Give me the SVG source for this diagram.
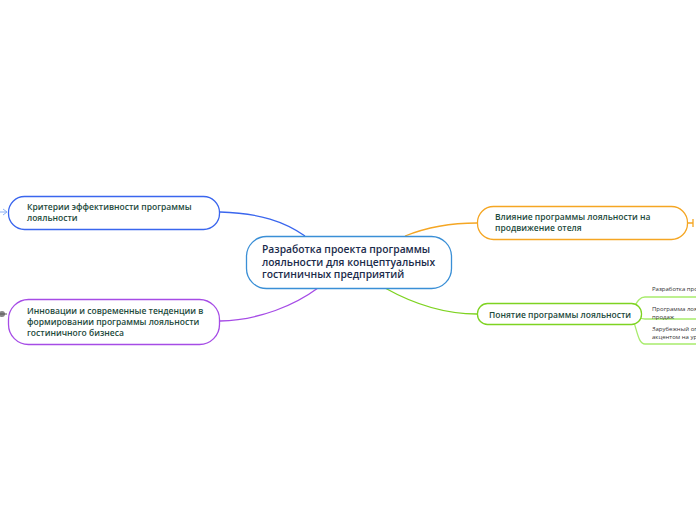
<svg xmlns="http://www.w3.org/2000/svg" width="696" height="520" viewBox="0 0 696 520">
<style>
.t{font-family:"Open Sans","Noto Sans","Liberation Sans",sans-serif;font-weight:600;fill:#1d4a3c;font-size:8.5px}
.c{font-family:"Open Sans","Noto Sans","Liberation Sans",sans-serif;font-weight:600;fill:#1b2b4b;font-size:10.3px}
.s{font-family:"Open Sans","Noto Sans","Liberation Sans",sans-serif;fill:#333;font-size:6px}
.n{fill:#fff;stroke-width:1.3}
.l{fill:none;stroke-width:1.3}
</style>
<rect width="696" height="520" fill="#fff"/>
<g id="connectors">
<path class="l" d="M220 212 C260 213 285 222 305 236" stroke="#3a66ee"/>
<path class="l" d="M220 321 C260 320 295 305 318 288" stroke="#a64ce6"/>
<path class="l" d="M405 236 C425 228 450 223 477 223" stroke="#f5a623"/>
<path class="l" d="M385 288 C410 302 440 314 477 314" stroke="#7ed321"/>
<path class="l" d="M688 223 H693 M693 219 V227" stroke="#f5a623"/>
<path class="l" d="M630 313 C636 305 638 297 645 297 H696" stroke="#a8ec6c"/>
<path class="l" d="M630 313 C636 316 638 319 645 319 H696" stroke="#a8ec6c"/>
<path class="l" d="M630 313 C637 325 637 344 645 344 H696" stroke="#a8ec6c"/>
</g>
<g id="central">
<rect class="n" x="246.5" y="236.5" width="205" height="52" rx="20" stroke="#3a8fd6"/>
<text class="c" x="262" y="253">Разработка проекта программы</text>
<text class="c" x="262" y="265.5">лояльности для концептуальных</text>
<text class="c" x="262" y="278">гостиничных предприятий</text>
</g>
<g id="criteria">
<rect class="n" x="8.5" y="196.5" width="211" height="33" rx="16" stroke="#3a66ee"/>
<text class="t" x="27" y="210">Критерии эффективности программы</text>
<text class="t" x="27" y="221">лояльности</text>
<path d="M0 212 H7 M3 209 L7 212 L3 215" fill="none" stroke="#8ab0f5" stroke-width="1"/>
</g>
<g id="innovations">
<rect class="n" x="8.5" y="299.5" width="211" height="45" rx="20" stroke="#a64ce6"/>
<text class="t" x="27" y="314">Инновации и современные тенденции в</text>
<text class="t" x="27" y="325">формировании программы лояльности</text>
<text class="t" x="27" y="336">гостиничного бизнеса</text>
<circle cx="2" cy="314" r="3" fill="#888"/>
<path d="M0 314 H7" stroke="#555" stroke-width="1"/>
</g>
<g id="influence">
<rect class="n" x="477.5" y="206.5" width="210" height="33" rx="16" stroke="#f5a623"/>
<text class="t" x="495" y="220">Влияние программы лояльности на</text>
<text class="t" x="495" y="231">продвижение отеля</text>
</g>
<g id="concept">
<rect class="n" x="477.5" y="303.5" width="164" height="21" rx="10" stroke="#7ed321"/>
<text class="t" x="489" y="317.5">Понятие программы лояльности</text>
</g>
<g id="sub1">
<text class="s" x="652" y="291">Разработка программы лояльности</text>
</g>
<g id="sub2">
<text class="s" x="652" y="311">Программа лояльности как инструмент</text>
<text class="s" x="652" y="319">продаж</text>
</g>
<g id="sub3">
<text class="s" x="652" y="331">Зарубежный опыт программ лояльности с</text>
<text class="s" x="652" y="339">акцентом на уровень сервиса</text>
</g>
</svg>
